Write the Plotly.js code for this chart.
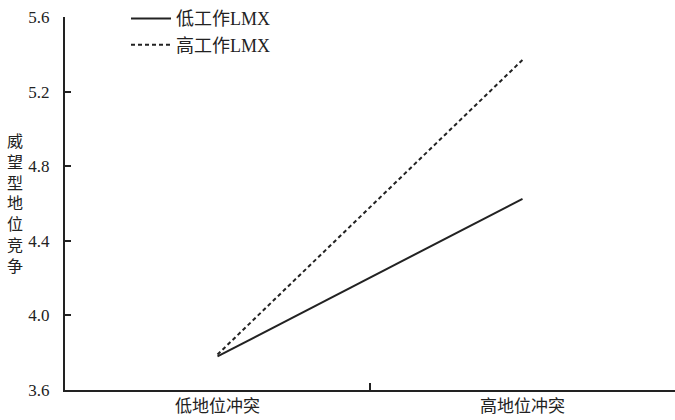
<!DOCTYPE html>
<html><head><meta charset="utf-8">
<script src="https://cdn.plot.ly/plotly-3.0.1.min.js"></script>
<style>body{margin:0;padding:0;background:#fff}#chart{width:675px;height:420px}</style>
</head><body><div id="chart"></div>
<script>
const categories = ["低地位冲突", "高地位冲突"];
const lowLMX = [3.78, 4.625];
const highLMX = [3.79, 5.37];
const seriesNames = ["低工作LMX", "高工作LMX"];
const yTicks = [3.6, 4.0, 4.4, 4.8, 5.2, 5.6];
const yTitleChars = ["威","望","型","地","位","竞","争"];

const FONT = "'Liberation Serif', 'Times New Roman', 'Noto Sans CJK SC', serif";
const data = [
  {x: categories, y: lowLMX, name: seriesNames[0], type: "scatter", mode: "lines",
   line: {color: "#222", width: 2}},
  {x: categories, y: highLMX, name: seriesNames[1], type: "scatter", mode: "lines",
   line: {color: "#222", width: 2, dash: "4px,3px"}}
];
const layout = {
  width: 675, height: 420,
  margin: {l: 65, r: 0, t: 17, b: 30},
  paper_bgcolor: "#fff", plot_bgcolor: "#fff",
  font: {family: FONT, size: 16, color: "#222"},
  showlegend: true,
  legend: {x: 0.1, y: 1.045, xanchor: "left", yanchor: "top", bgcolor: "rgba(0,0,0,0)",
    font: {family: FONT, size: 18, color: "#222"}, tracegroupgap: 0, itemwidth: 40},
  xaxis: {type: "category", range: [-0.5, 1.5], tickson: "boundaries",
    showline: true, linecolor: "#222", linewidth: 2, ticks: "inside", ticklen: 7,
    tickwidth: 2, tickcolor: "#222", showgrid: false, zeroline: false,
    ticklabelstandoff: 0,
    tickfont: {family: FONT, size: 17, color: "#222"}},
  yaxis: {range: [3.6, 5.6], tickvals: yTicks, tickformat: ".1f",
    showline: true, linecolor: "#222", linewidth: 2, ticks: "inside", ticklen: 6,
    tickwidth: 2, tickcolor: "#222", showgrid: false, zeroline: false,
    ticklabelstandoff: 10,
    tickfont: {family: FONT, size: 17, color: "#222"}},
  annotations: [{
    text: yTitleChars.join("<br>"), xref: "paper", yref: "paper",
    x: -0.082, y: 0.5, xanchor: "center", yanchor: "middle", showarrow: false,
    font: {family: FONT, size: 16, color: "#222"}
  }]
};
Plotly.newPlot("chart", data, layout, {displayModeBar: false});
</script></body></html>
